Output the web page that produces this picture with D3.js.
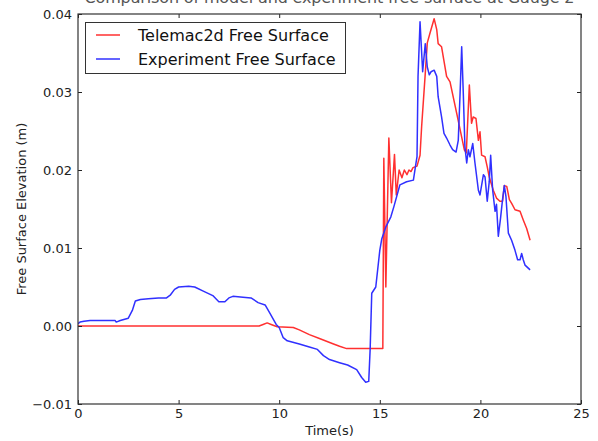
<!DOCTYPE html>
<html>
<head>
<meta charset="utf-8">
<script src="https://cdn.jsdelivr.net/npm/d3@7"></script>
<style>
  body { margin: 0; background: #fff; }
  svg { display: block; font-family: "DejaVu Sans", sans-serif; }
</style>
</head>
<body>
<svg id="chart"></svg>
<script>
// Telemac2d model (red)
const modelTime = [0, 9.0, 9.2, 9.4, 9.6, 9.9, 10.7, 11.0, 11.5, 12.0, 12.7, 13.0, 13.35, 15.15,
  15.2, 15.3, 15.45, 15.58, 15.73, 15.82, 15.96, 16.1, 16.22, 16.35, 16.45, 16.55, 16.65, 16.85,
  17.0, 17.08, 17.25, 17.36, 17.5, 17.7, 17.83, 17.9, 18.07, 18.32, 18.49, 18.82, 19.2, 19.3,
  19.45, 19.56, 19.64, 19.78, 19.9, 19.98, 20.06, 20.23, 20.34, 20.44, 20.64, 20.8, 20.97, 21.1,
  21.19, 21.31, 21.44, 21.56, 21.72, 21.97, 22.13, 22.3, 22.47];
const modelSurface = [0, 0, 0.0002, 0.0004, 0.0002, -0.0001, -0.0002, -0.0005, -0.0011, -0.0016, -0.0023, -0.0026, -0.0029, -0.0029,
  0.0215, 0.005, 0.0241, 0.0158, 0.022, 0.0168, 0.020, 0.019, 0.020, 0.0194, 0.020, 0.0198, 0.0203, 0.0205,
  0.0219, 0.0256, 0.032, 0.0363, 0.0376, 0.0394, 0.038, 0.0362, 0.0358, 0.032, 0.0313, 0.0273, 0.0226, 0.0222,
  0.0309, 0.026, 0.0268, 0.0266, 0.0238, 0.0249, 0.0219, 0.0217, 0.0204, 0.0191, 0.0174, 0.0164, 0.016, 0.016,
  0.018, 0.0179, 0.0162, 0.0157, 0.0149, 0.0147, 0.0136, 0.0125, 0.011];

// experiment gauge (blue)
const expTime = [0, 0.1, 0.3, 0.6, 1.0, 1.5, 1.85, 1.9, 2.1, 2.5, 2.7, 2.85, 3.1, 3.5, 4.0, 4.4, 4.6, 4.8,
  5.0, 5.5, 5.8, 6.2, 6.7, 7.0, 7.3, 7.5, 7.7, 8.2, 8.6, 8.95, 9.3, 9.5, 9.85, 10.0, 10.2, 10.4, 11.0,
  11.5, 11.9, 12.2, 12.5, 13.0, 13.4, 13.85, 14.1, 14.3, 14.45, 14.52, 14.6, 14.8, 15.0, 15.1, 15.3,
  15.55, 15.7, 16.0, 16.33, 16.67, 16.8, 16.85, 16.9, 17.0, 17.13, 17.26, 17.36, 17.46, 17.55, 17.7,
  17.83, 17.9, 18.07, 18.19, 18.32, 18.49, 18.62, 18.79, 18.9, 18.99, 19.07, 19.15, 19.23, 19.32, 19.4,
  19.48, 19.62, 19.73, 19.9, 19.98, 20.15, 20.23, 20.34, 20.44, 20.51, 20.61, 20.73, 20.8, 20.89, 21.0,
  21.1, 21.19, 21.27, 21.39, 21.55, 21.72, 21.85, 21.97, 22.05, 22.13, 22.22, 22.47];
const expSurface = [0.0003, 0.0005, 0.0006, 0.0007, 0.0007, 0.0007, 0.0007, 0.0005, 0.0007, 0.001, 0.002, 0.0032, 0.0034, 0.0035, 0.0036, 0.0036, 0.004, 0.0047,
  0.005, 0.0051, 0.005, 0.0045, 0.0039, 0.0031, 0.0031, 0.0036, 0.0038, 0.0037, 0.0036, 0.003, 0.0027, 0.0018, 0.0002, -0.0002, -0.0015, -0.0019, -0.0023,
  -0.0027, -0.003, -0.0038, -0.0043, -0.0047, -0.005, -0.0056, -0.0066, -0.0072, -0.0071, -0.003, 0.0042, 0.005, 0.0097, 0.0112, 0.0127,
  0.014, 0.0153, 0.0181, 0.0185, 0.0187, 0.0209, 0.0217, 0.032, 0.039, 0.0326, 0.0362, 0.0332, 0.0322, 0.0326, 0.0328,
  0.032, 0.0294, 0.0268, 0.0247, 0.0241, 0.0232, 0.0226, 0.0223, 0.0238, 0.0298, 0.0358, 0.0298, 0.023, 0.0209, 0.0226,
  0.0217, 0.0234, 0.0209, 0.0174, 0.0168, 0.0194, 0.0191, 0.016, 0.0185, 0.0219, 0.0174, 0.0147, 0.0156, 0.0115, 0.0138,
  0.0162, 0.018, 0.0166, 0.0119, 0.011, 0.0097, 0.0085, 0.0085, 0.0093, 0.0085, 0.0078, 0.0072];

const xTicks = [0, 5, 10, 15, 20, 25];
const yTicks = [-0.01, 0.00, 0.01, 0.02, 0.03, 0.04];
const seriesNames = ["Telemac2d Free Surface", "Experiment Free Surface"];
const seriesColors = ["#ff3030", "#3030ff"];

const width = 598, height = 441;
const margin = { top: 14, right: 17, bottom: 37, left: 78 };

const svg = d3.select("#chart").attr("width", width).attr("height", height);

const x = d3.scaleLinear().domain([0, 25]).range([margin.left, width - margin.right]);
const y = d3.scaleLinear().domain([-0.01, 0.04]).range([height - margin.bottom, margin.top]);

// title, mostly cut off at the top edge as in the source image
svg.append("text")
  .attr("x", (margin.left + width - margin.right) / 2)
  .attr("y", 3)
  .attr("text-anchor", "middle")
  .attr("font-size", 16)
  .attr("fill", "#555")
  .attr("textLength", 490)
  .text("Comparison of model and experiment free surface at Gauge 2");

svg.append("clipPath").attr("id", "clip")
  .append("rect")
  .attr("x", margin.left).attr("y", margin.top)
  .attr("width", x.range()[1] - margin.left)
  .attr("height", y.range()[0] - margin.top);

const line = d3.line().x(d => x(d[0])).y(d => y(d[1]));

const series = [
  d3.zip(modelTime, modelSurface),
  d3.zip(expTime, expSurface)
];

series.forEach((pts, i) => {
  svg.append("path")
    .datum(pts)
    .attr("clip-path", "url(#clip)")
    .attr("fill", "none")
    .attr("stroke", seriesColors[i])
    .attr("stroke-width", 1.5)
    .attr("stroke-linejoin", "round")
    .attr("d", line);
});

// axes, ticks pointing inward on all four sides
const fmtY = d => d3.format(".2f")(d).replace("-", "\u2212");

const axBottom = svg.append("g")
  .attr("transform", `translate(0,${y.range()[0]})`)
  .call(d3.axisBottom(x).tickValues(xTicks).tickSize(-4).tickPadding(5).tickFormat(d3.format("d")));
const axTop = svg.append("g")
  .attr("transform", `translate(0,${margin.top})`)
  .call(d3.axisTop(x).tickValues(xTicks).tickSize(-4).tickFormat(""));
const axLeft = svg.append("g")
  .attr("transform", `translate(${margin.left},0)`)
  .call(d3.axisLeft(y).tickValues(yTicks).tickSize(-4).tickPadding(6).tickFormat(fmtY));
const axRight = svg.append("g")
  .attr("transform", `translate(${x.range()[1]},0)`)
  .call(d3.axisRight(y).tickValues(yTicks).tickSize(-4).tickFormat(""));

[axBottom, axTop, axLeft, axRight].forEach(g => {
  g.select(".domain").remove();
  g.selectAll(".tick line").attr("stroke", "#222");
  g.selectAll("text").attr("font-size", 13).attr("fill", "#222").attr("font-family", "DejaVu Sans");
});

svg.append("rect")
  .attr("x", margin.left).attr("y", margin.top)
  .attr("width", x.range()[1] - margin.left)
  .attr("height", y.range()[0] - margin.top)
  .attr("fill", "none")
  .attr("stroke", "#333")
  .attr("stroke-width", 1.2);

// axis labels
svg.append("text")
  .attr("x", (margin.left + x.range()[1]) / 2)
  .attr("y", 435)
  .attr("text-anchor", "middle")
  .attr("font-size", 13)
  .attr("fill", "#222")
  .text("Time(s)");

svg.append("text")
  .attr("transform", `translate(26,${(y.range()[0] + margin.top) / 2}) rotate(-90)`)
  .attr("text-anchor", "middle")
  .attr("font-size", 13)
  .attr("fill", "#222")
  .text("Free Surface Elevation (m)");

// legend
const legend = svg.append("g");
legend.append("rect")
  .attr("x", 85.5).attr("y", 22.5)
  .attr("width", 260).attr("height", 51)
  .attr("fill", "#fff")
  .attr("stroke", "#333");

seriesNames.forEach((name, i) => {
  const ly = 35 + i * 24;
  legend.append("line")
    .attr("x1", 96).attr("x2", 120)
    .attr("y1", ly).attr("y2", ly)
    .attr("stroke", seriesColors[i])
    .attr("stroke-width", 1.5);
  legend.append("text")
    .attr("x", 138).attr("y", ly + 6)
    .attr("font-size", 16)
    .attr("fill", "#111")
    .text(name);
});
</script>
</body>
</html>
